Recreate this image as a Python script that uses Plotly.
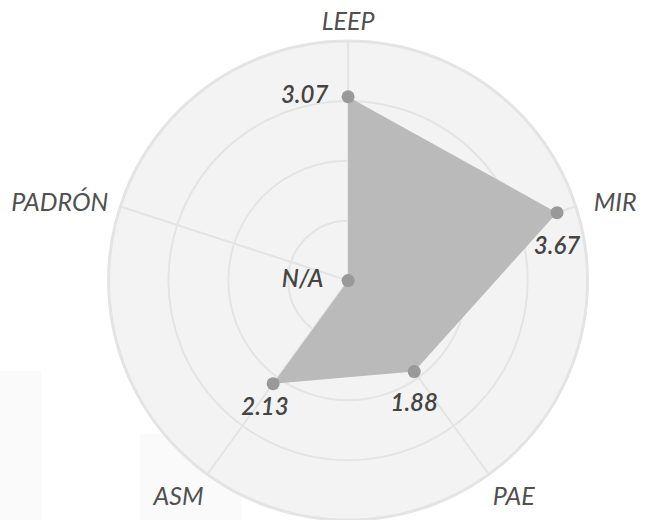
import plotly.graph_objects as go

# Scores per dimension (PADRÓN has no score, drawn at the centre as N/A)
categories = ["LEEP", "MIR", "PAE", "ASM", "PADRÓN"]
category_text = ["LEEP", "\u00a0\u00a0MIR", "PAE", "ASM", "PADRÓN\u00a0"]
scores = [3.07, 3.67, 1.88, 2.13, None]
label_positions = ["middle left", "bottom center", "bottom center", "bottom center", "middle left"]
radial_ticks = [1, 2, 3, 4]

r_vals = [s if s is not None else 0 for s in scores]
labels = [f"{s:.2f}" if s is not None else "N/A" for s in scores]
labels[3] = labels[3] + "\u00a0\u00a0\u00a0"

FONT = "Lato, 'Open Sans', sans-serif"

fig = go.Figure()

# Filled polygon
fig.add_trace(go.Scatterpolar(
    r=r_vals + [r_vals[0]],
    theta=categories + [categories[0]],
    mode="lines",
    fill="toself",
    fillcolor="#bababa",
    line=dict(color="#bababa", width=0),
    hoverinfo="skip",
    showlegend=False,
))

# Value labels: an invisible marker per point sets how far each label sits
fig.add_trace(go.Scatterpolar(
    r=r_vals,
    theta=categories,
    mode="markers+text",
    marker=dict(color="rgba(0,0,0,0)", size=[30, 36, 32, 20, 38], line=dict(width=0)),
    text=labels,
    textposition=label_positions,
    textfont=dict(family=FONT, size=24, color="#444444", style="italic", weight=600),
    hoverinfo="skip",
    showlegend=False,
))

# Visible points
fig.add_trace(go.Scatterpolar(
    r=r_vals,
    theta=categories,
    mode="markers",
    marker=dict(color="#999999", size=13, line=dict(width=0)),
    showlegend=False,
))

fig.update_layout(
    width=650,
    height=520,
    margin=dict(l=0, r=0, t=0, b=0),
    paper_bgcolor="white",
    showlegend=False,
    shapes=[
        dict(type="rect", xref="paper", yref="paper", layer="below",
             x0=0, x1=41 / 650, y0=0, y1=(520 - 371) / 520,
             fillcolor="#fafafa", line=dict(width=0)),
        dict(type="rect", xref="paper", yref="paper", layer="below",
             x0=140 / 650, x1=241 / 650, y0=0, y1=(520 - 434) / 520,
             fillcolor="#fafafa", line=dict(width=0)),
    ],
    polar=dict(
        domain=dict(x=[0.166, 0.905], y=[0.0, 0.921]),
        bgcolor="#f3f3f3",
        radialaxis=dict(
            range=[0, 4],
            tickvals=radial_ticks,
            showticklabels=False,
            ticks="",
            showline=False,
            gridcolor="#e4e4e4",
            gridwidth=2,
        ),
        angularaxis=dict(
            rotation=90,
            direction="clockwise",
            showline=True,
            linecolor="#e4e4e4",
            linewidth=3,
            gridcolor="#e4e4e4",
            gridwidth=2,
            ticks="",
            tickmode="array",
            tickvals=categories,
            ticktext=[f"<i>{c}</i>" for c in category_text],
            tickfont=dict(family=FONT, size=25, color="#505050"),
        ),
    ),
)

fig.write_html("out.html")
